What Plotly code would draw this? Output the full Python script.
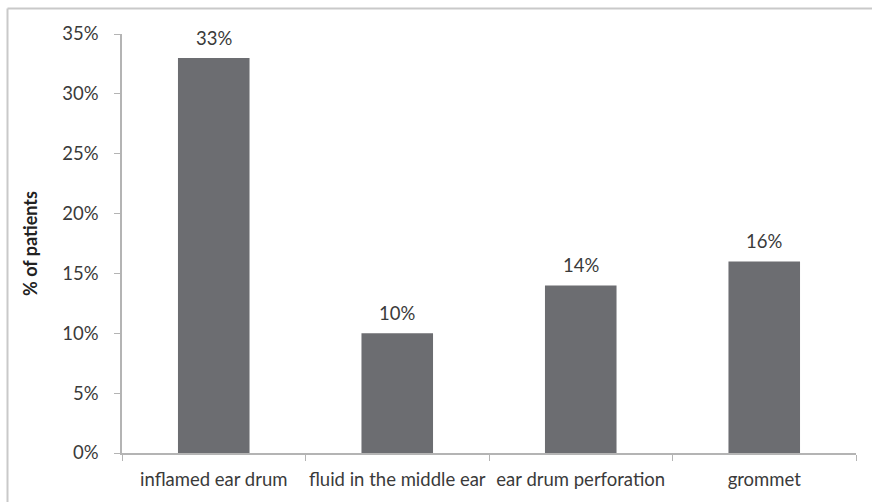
import plotly.graph_objects as go

categories = ["inflamed ear drum", "fluid in the middle ear", "ear drum perforation", "grommet"]
percent_patients = [33, 10, 14, 16]
y_ticks = [0, 5, 10, 15, 20, 25, 30, 35]

BAR_COLOR = "#6c6d71"
AXIS_COLOR = "#b4b4b4"
TEXT_COLOR = "#3a3a3a"
FONT = "Lato, 'Open Sans', sans-serif"
FS = 18.5

fig = go.Figure(
    go.Bar(
        x=categories,
        y=percent_patients,
        marker=dict(color=BAR_COLOR, line=dict(width=0)),
        width=0.39,
        hoverinfo="skip",
    )
)

# value labels above each bar
for cat, val in zip(categories, percent_patients):
    fig.add_annotation(
        x=cat, y=val, text=f"{val}%", showarrow=False,
        yanchor="bottom", yshift=7,
        font=dict(family=FONT, size=FS, color=TEXT_COLOR),
    )

# outer frame (top and left edges)
fig.add_shape(type="line", xref="paper", yref="paper",
              x0=-0.156, x1=1.1, y0=1.0609, y1=1.0609,
              line=dict(color="#c9c9c9", width=2), layer="below")
fig.add_shape(type="line", xref="paper", yref="paper",
              x0=-0.156, x1=-0.156, y0=-0.2, y1=1.0609,
              line=dict(color="#c9c9c9", width=2), layer="below")

fig.update_layout(
    width=872, height=502,
    margin=dict(l=122, r=16, t=34, b=49, autoexpand=False),
    paper_bgcolor="white", plot_bgcolor="white",
    showlegend=False,
    font=dict(family=FONT, size=FS, color=TEXT_COLOR),
    bargap=0.61,
)

fig.update_xaxes(
    type="category",
    showgrid=False, zeroline=False,
    showline=True, linecolor=AXIS_COLOR, linewidth=1.5,
    ticks="outside", tickson="boundaries", ticklen=6, tickcolor=AXIS_COLOR,
    ticklabelstandoff=9, tickangle=0, automargin=False,
    tickfont=dict(family=FONT, size=FS, color=TEXT_COLOR),
)

fig.update_yaxes(
    range=[0, 35],
    tickvals=y_ticks, ticktext=[f"{v}%" for v in y_ticks],
    showgrid=False, zeroline=False,
    showline=True, linecolor=AXIS_COLOR, linewidth=1.5,
    ticks="outside", ticklen=6, tickcolor=AXIS_COLOR,
    ticklabelstandoff=12, automargin=False,
    tickfont=dict(family=FONT, size=FS, color=TEXT_COLOR),
    title=dict(text="<b>% of patients</b>", standoff=20,
               font=dict(family=FONT, size=18, color="#222222")),
)

fig.write_html("out.html")
